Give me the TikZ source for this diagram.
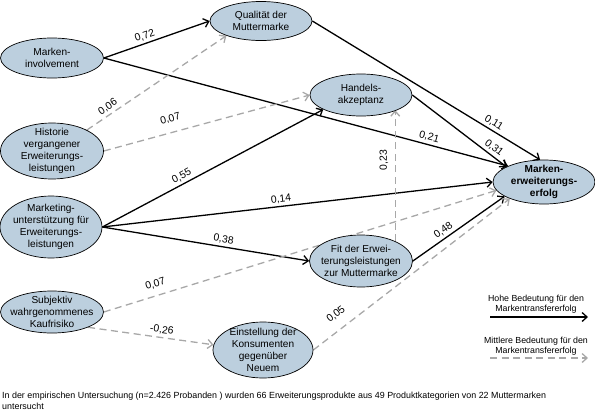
\documentclass[tikz,border=0pt]{standalone}
\usepackage{fontspec}
\setmainfont{Liberation Sans}
\usetikzlibrary{shapes.geometric,arrows.meta}
\definecolor{nodefill}{RGB}{188,207,222}
\definecolor{dashgray}{RGB}{168,168,168}
\pgfdeclarelayer{bg}
\pgfsetlayers{bg,main}
\begin{document}
\begin{tikzpicture}[x=1pt,y=-1pt,
  var/.style={ellipse,draw=black,line width=0.7pt,fill=nodefill,inner sep=-20pt,align=center,font=\fontsize{10.1}{11.8}\selectfont},
  strong/.style={line width=1.3pt,draw=black,-{Straight Barb[length=5pt,width=9pt]}},
  medium/.style={line width=1.3pt,draw=dashgray,dash pattern=on 7pt off 4.5pt,-{Straight Barb[length=5pt,width=9pt]}},
  coef/.style={sloped,above,font=\fontsize{10.4}{12}\selectfont,text=black,inner sep=2.5pt},
  legtext/.style={align=center,font=\fontsize{8.8}{10}\selectfont},
]
\useasboundingbox (0,0) rectangle (595,418);

\node[var,minimum width=103pt,minimum height=40pt] (inv) at (52,58) {Marken-\\involvement};
\node[var,minimum width=102pt,minimum height=39pt] (qual) at (261,21) {Qualität der\\Muttermarke};
\node[var,minimum width=103pt,minimum height=56pt] (hist) at (52,151) {Historie\\vergangener\\Erweiterungs-\\leistungen};
\node[var,minimum width=102pt,minimum height=42pt] (hand) at (361,95) {Handels-\\akzeptanz};
\node[var,minimum width=102pt,minimum height=62pt] (mkt) at (51,227) {Marketing-\\unterstützung für\\Erweiterungs-\\leistungen};
\node[var,minimum width=103pt,minimum height=52pt] (fit) at (361,261) {Fit der Erwei-\\terungsleistungen\\zur Muttermarke};
\node[var,font=\fontsize{10.1}{11.8}\selectfont\bfseries,minimum width=102pt,minimum height=44pt] (erf) at (544,182) {Marken-\\erweiterungs-\\erfolg};
\node[var,minimum width=103pt,minimum height=42pt] (subj) at (52,312) {Subjektiv\\wahrgenommenes\\Kaufrisiko};
\node[var,minimum width=100pt,minimum height=56pt] (einst) at (263,350) {Einstellung der\\Konsumenten\\gegenüber\\Neuem};

\begin{pgfonlayer}{bg}
\draw[strong] (inv.east) -- node[coef,pos=0.41]{0,72} (qual.west);
\draw[strong] (inv.east) -- node[coef,pos=0.80]{0,21} (erf.156);
\draw[strong] (qual.east) -- node[coef,pos=0.78]{0,11} (erf.100);
\draw[strong] (hand.east) -- node[coef,pos=0.82]{0,31} (erf.158);
\draw[strong] (mkt.east) -- node[coef,pos=0.375]{0,55} (hand.201);
\draw[strong] (mkt.east) -- node[coef,pos=0.46]{0,14} (erf.west);
\draw[strong] (mkt.east) -- node[coef,pos=0.58]{0,38} (fit.west);
\draw[strong] (fit.east) -- node[coef,pos=0.38]{0,48} (erf.200);
\draw[medium] (hist.31) -- node[coef,pos=0.18]{0,06} (qual.203);
\draw[medium] (hist.east) -- node[coef,pos=0.34,above=6pt]{0,07} (hand.west);
\draw[medium] (fit.30) -- node[coef,pos=0.62,above=4pt]{0,23} (fit.30 |- hand.337);
\draw[medium] (subj.east) -- node[coef,pos=0.14,above=4pt]{0,07} (erf.190);
\draw[medium] (subj.337) -- node[coef,pos=0.58]{-0,26} (einst.174);
\draw[medium] (einst.east) -- node[coef,pos=0.16,above=7pt]{0,05} (erf.206);
\end{pgfonlayer}

\node[legtext] (leg1) at (536,304) {Hohe Bedeutung für den\\Markentransfererfolg};
\coordinate (l1a) at (490,317);
\coordinate (l1b) at (588,317);
\draw[strong] (l1a) -- (l1b);
\node[legtext] (leg2) at (536,346) {Mittlere Bedeutung für den\\Markentransfererfolg};
\coordinate (l2a) at (490,358);
\coordinate (l2b) at (588,358);
\draw[medium] (l2a) -- (l2b);

\node[anchor=north west,align=left,inner sep=0pt,font=\fontsize{8.9}{10.5}\selectfont] (note) at (2,392) {In der empirischen Untersuchung (n=2.426 Probanden ) wurden 66 Erweiterungsprodukte aus 49 Produktkategorien von 22 Muttermarken\\untersucht};
\end{tikzpicture}
\end{document}
